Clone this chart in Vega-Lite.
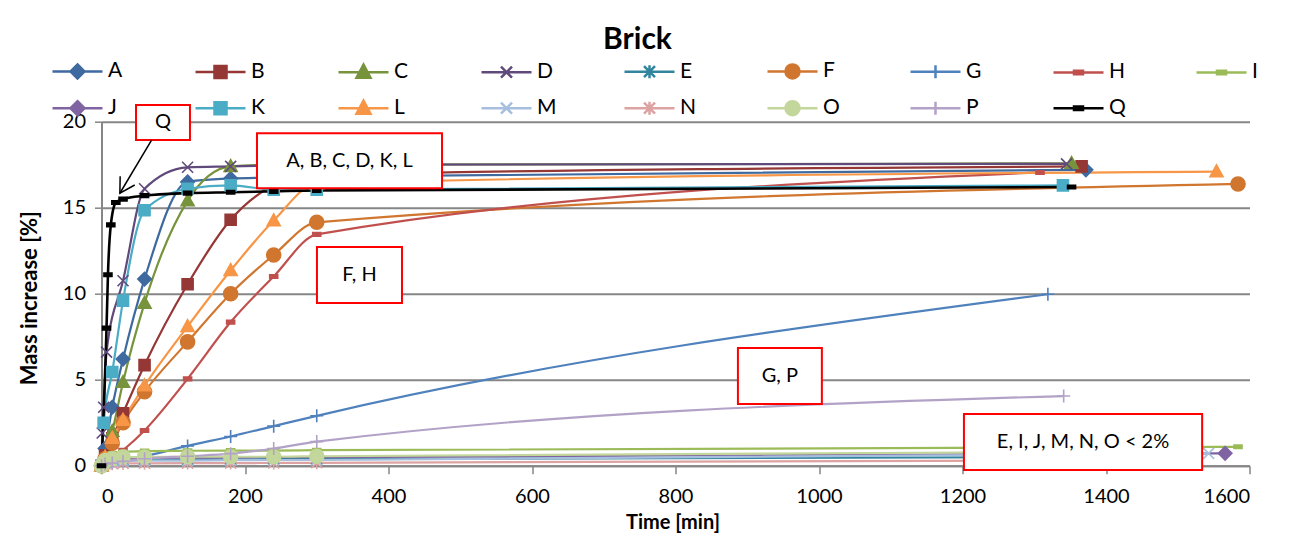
{
  "$schema": "https://vega.github.io/schema/vega-lite/v6.json",
  "width": 1148,
  "height": 344,
  "autosize": {"type": "none"},
  "padding": {"left": 101.5, "top": 121.7, "right": 45.5, "bottom": 68.3},
  "background": "white",
  "title": {"text": "Brick", "font": "Lato", "fontSize": 30, "fontWeight": "bold", "color": "black", "anchor": "middle", "frame": "group", "dx": -38, "baseline": "alphabetic", "offset": -19},
  "config": {
    "view": {"stroke": null},
    "axis": {"labelFont": "Lato", "titleFont": "Lato", "labelColor": "black", "titleColor": "black", "domainColor": "#868686", "tickColor": "#868686", "gridColor": "#868686"},
    "legend": {"labelFont": "Lato", "labelColor": "black"}
  },
  "datasets": {
    "main": [
      {"s":"A","t":0,"v":0},{"s":"A","t":5,"v":1.0},{"s":"A","t":15,"v":3.4},{"s":"A","t":30,"v":6.2},{"s":"A","t":60,"v":10.85},{"s":"A","t":120,"v":16.5},{"s":"A","t":180,"v":16.7},{"s":"A","t":240,"v":16.75},{"s":"A","t":300,"v":16.8},{"s":"A","t":1372,"v":17.2},
      {"s":"B","t":0,"v":0},{"s":"B","t":5,"v":0.6},{"s":"B","t":15,"v":1.6},{"s":"B","t":30,"v":3.05},{"s":"B","t":60,"v":5.85},{"s":"B","t":120,"v":10.55},{"s":"B","t":180,"v":14.3},{"s":"B","t":240,"v":16.3},{"s":"B","t":300,"v":16.9},{"s":"B","t":1366,"v":17.4},
      {"s":"C","t":0,"v":0},{"s":"C","t":5,"v":0.5},{"s":"C","t":15,"v":2.0},{"s":"C","t":30,"v":4.85},{"s":"C","t":60,"v":9.45},{"s":"C","t":120,"v":15.4},{"s":"C","t":180,"v":17.4},{"s":"C","t":240,"v":17.5},{"s":"C","t":300,"v":17.5},{"s":"C","t":1352,"v":17.58},
      {"s":"D","t":0,"v":0},{"s":"D","t":1,"v":1.9},{"s":"D","t":3,"v":3.4},{"s":"D","t":7,"v":6.6},{"s":"D","t":30,"v":10.75},{"s":"D","t":60,"v":16.1},{"s":"D","t":120,"v":17.35},{"s":"D","t":180,"v":17.4},{"s":"D","t":240,"v":17.45},{"s":"D","t":300,"v":17.5},{"s":"D","t":1345,"v":17.55},
      {"s":"E","t":0,"v":0},{"s":"E","t":5,"v":0.2},{"s":"E","t":15,"v":0.3},{"s":"E","t":30,"v":0.33},{"s":"E","t":60,"v":0.35},{"s":"E","t":120,"v":0.36},{"s":"E","t":180,"v":0.37},{"s":"E","t":240,"v":0.38},{"s":"E","t":300,"v":0.38},{"s":"E","t":1350,"v":0.5},
      {"s":"F","t":0,"v":0},{"s":"F","t":5,"v":0.4},{"s":"F","t":15,"v":1.3},{"s":"F","t":30,"v":2.5},{"s":"F","t":60,"v":4.3},{"s":"F","t":120,"v":7.2},{"s":"F","t":180,"v":10.0},{"s":"F","t":240,"v":12.25},{"s":"F","t":300,"v":14.15},{"s":"F","t":1584,"v":16.38},
      {"s":"G","t":0,"v":0},{"s":"G","t":5,"v":0.1},{"s":"G","t":15,"v":0.2},{"s":"G","t":30,"v":0.3},{"s":"G","t":60,"v":0.55},{"s":"G","t":120,"v":1.15},{"s":"G","t":180,"v":1.7},{"s":"G","t":240,"v":2.3},{"s":"G","t":300,"v":2.9},{"s":"G","t":1319,"v":9.97},
      {"s":"H","t":0,"v":0},{"s":"H","t":5,"v":0.1},{"s":"H","t":15,"v":0.4},{"s":"H","t":30,"v":0.9},{"s":"H","t":60,"v":2.05},{"s":"H","t":120,"v":5.05},{"s":"H","t":180,"v":8.35},{"s":"H","t":240,"v":11.0},{"s":"H","t":300,"v":13.45},{"s":"H","t":1308,"v":17.05},
      {"s":"I","t":0,"v":0},{"s":"I","t":5,"v":0.5},{"s":"I","t":15,"v":0.7},{"s":"I","t":30,"v":0.8},{"s":"I","t":60,"v":0.85},{"s":"I","t":120,"v":0.87},{"s":"I","t":180,"v":0.88},{"s":"I","t":240,"v":0.88},{"s":"I","t":300,"v":0.9},{"s":"I","t":1584,"v":1.1},
      {"s":"J","t":0,"v":0},{"s":"J","t":5,"v":0.3},{"s":"J","t":15,"v":0.4},{"s":"J","t":30,"v":0.45},{"s":"J","t":60,"v":0.45},{"s":"J","t":120,"v":0.47},{"s":"J","t":180,"v":0.48},{"s":"J","t":240,"v":0.5},{"s":"J","t":300,"v":0.5},{"s":"J","t":1566,"v":0.72},
      {"s":"K","t":0,"v":0},{"s":"K","t":3,"v":2.5},{"s":"K","t":15,"v":5.45},{"s":"K","t":30,"v":9.6},{"s":"K","t":60,"v":14.85},{"s":"K","t":120,"v":16.1},{"s":"K","t":180,"v":16.3},{"s":"K","t":240,"v":16.05},{"s":"K","t":300,"v":16.05},{"s":"K","t":1340,"v":16.3},
      {"s":"L","t":0,"v":0},{"s":"L","t":5,"v":0.5},{"s":"L","t":15,"v":1.6},{"s":"L","t":30,"v":2.65},{"s":"L","t":60,"v":4.65},{"s":"L","t":120,"v":8.1},{"s":"L","t":180,"v":11.35},{"s":"L","t":240,"v":14.25},{"s":"L","t":300,"v":16.4},{"s":"L","t":1554,"v":17.1},
      {"s":"M","t":0,"v":0},{"s":"M","t":5,"v":0.2},{"s":"M","t":15,"v":0.25},{"s":"M","t":30,"v":0.28},{"s":"M","t":60,"v":0.3},{"s":"M","t":120,"v":0.3},{"s":"M","t":180,"v":0.32},{"s":"M","t":240,"v":0.33},{"s":"M","t":300,"v":0.33},{"s":"M","t":1543,"v":0.72},
      {"s":"N","t":0,"v":0},{"s":"N","t":5,"v":0.1},{"s":"N","t":15,"v":0.12},{"s":"N","t":30,"v":0.13},{"s":"N","t":60,"v":0.14},{"s":"N","t":120,"v":0.15},{"s":"N","t":180,"v":0.15},{"s":"N","t":240,"v":0.16},{"s":"N","t":300,"v":0.17},{"s":"N","t":1350,"v":0.3},
      {"s":"O","t":0,"v":0},{"s":"O","t":5,"v":0.3},{"s":"O","t":15,"v":0.4},{"s":"O","t":30,"v":0.5},{"s":"O","t":60,"v":0.5},{"s":"O","t":120,"v":0.52},{"s":"O","t":180,"v":0.52},{"s":"O","t":240,"v":0.52},{"s":"O","t":300,"v":0.55},{"s":"O","t":1350,"v":0.8},
      {"s":"P","t":0,"v":0},{"s":"P","t":5,"v":0.1},{"s":"P","t":15,"v":0.15},{"s":"P","t":30,"v":0.25},{"s":"P","t":60,"v":0.4},{"s":"P","t":120,"v":0.55},{"s":"P","t":180,"v":0.7},{"s":"P","t":240,"v":1.0},{"s":"P","t":300,"v":1.4},{"s":"P","t":1341,"v":4.05},
      {"s":"Q","t":0,"v":0},{"s":"Q","t":7,"v":8.0},{"s":"Q","t":9,"v":11.1},{"s":"Q","t":13,"v":14.0},{"s":"Q","t":20,"v":15.3},{"s":"Q","t":30,"v":15.5},{"s":"Q","t":60,"v":15.7},{"s":"Q","t":120,"v":15.85},{"s":"Q","t":180,"v":15.9},{"s":"Q","t":240,"v":15.95},{"s":"Q","t":300,"v":16.0},{"s":"Q","t":1352,"v":16.2}
    ],
    "boxes": [
      {"label":"Q","x1":48.1,"x2":123.3,"y1":20.97,"y2":18.94},
      {"label":"A, B, C, D, K, L","x1":216.7,"x2":474.6,"y1":19.33,"y2":16.13},
      {"label":"F, H","x1":300.3,"x2":418.8,"y1":12.71,"y2":9.46},
      {"label":"G, P","x1":887,"x2":1004,"y1":6.84,"y2":3.59},
      {"label":"E, I, J, M, N, O < 2%","x1":1202,"x2":1534,"y1":3.0,"y2":-0.25}
    ],
    "arrow": [
      {"x1":70,"y1":18.94,"x2":25.6,"y2":15.84}
    ]
  },
  "layer": [
    {
      "data": {"name": "main"},
      "mark": {"type": "line", "interpolate": "monotone"},
      "encoding": {
        "x": {"field": "t", "type": "quantitative", "title": "Time [min]",
          "scale": {"domain": [0, 1600], "nice": false},
          "axis": {"values": [0,200,400,600,800,1000,1200,1400,1600], "format": "d", "grid": false, "labelFontSize": 20, "tickSize": 8, "tickWidth": 1.5, "domainWidth": 2, "labelPadding": 13, "titleFontSize": 20, "titleFontWeight": "bold", "titleX": 571, "titleY": 57, "titleBaseline": "middle", "titleAlign": "center"}},
        "y": {"field": "v", "type": "quantitative", "title": "Mass increase [%]",
          "scale": {"domain": [0, 20], "nice": false},
          "axis": {"values": [0,5,10,15,20], "grid": true, "gridWidth": 2, "labelFontSize": 20, "tickSize": 7, "tickWidth": 1.5, "domainWidth": 2, "labelPadding": 9, "titleFontSize": 22, "titleFontWeight": "bold", "titleX": -72, "titleY": 176, "titleBaseline": "middle", "titleAlign": "center", "titleAngle": -90}},
        "stroke": {"field": "s", "type": "nominal", "legend": null,
          "scale": {"domain": ["A","B","C","D","E","F","G","H","I","J","K","L","M","N","O","P","Q"],
            "range": ["#3F6AA0","#953735","#77933C","#604A7B","#31859C","#D0762F","#4F81BD","#C0504D","#9BBB59","#8064A2","#4BACC6","#F79646","#A7BFDE","#DCA3A2","#C3D69B","#B3A2C7","#000000"]}},
        "strokeWidth": {"condition": {"test": "datum.s === 'Q'", "value": 2.6}, "value": 2.2}
      }
    },
    {
      "data": {"name": "main"},
      "mark": {"type": "point", "filled": true, "size": 100, "strokeWidth": 1.6, "opacity": 1},
      "encoding": {
        "x": {"field": "t", "type": "quantitative", "title": "Time [min]"},
        "y": {"field": "v", "type": "quantitative", "title": "Mass increase [%]"},
        "fill": {"field": "s", "type": "nominal", "legend": null,
          "scale": {"domain": ["A","B","C","D","E","F","G","H","I","J","K","L","M","N","O","P","Q"],
            "range": ["#3F6AA0","#953735","#77933C","#604A7B","#31859C","#D0762F","#4F81BD","#C0504D","#9BBB59","#8064A2","#4BACC6","#F79646","#A7BFDE","#DCA3A2","#C3D69B","#B3A2C7","#000000"]}},
        "stroke": {"field": "s", "type": "nominal", "legend": null,
          "scale": {"domain": ["A","B","C","D","E","F","G","H","I","J","K","L","M","N","O","P","Q"],
            "range": ["#3F6AA0","#953735","#77933C","#604A7B","#31859C","#D0762F","#4F81BD","#C0504D","#9BBB59","#8064A2","#4BACC6","#F79646","#A7BFDE","#DCA3A2","#C3D69B","#B3A2C7","#000000"]}},
        "shape": {"field": "s", "type": "nominal", "legend": null,
          "scale": {"domain": ["A","B","C","D","E","F","G","H","I","J","K","L","M","N","O","P","Q"],
            "range": [
              "M0,-1.35L1.35,0L0,1.35L-1.35,0Z",
              "M-1.1,-1.1H1.1V1.1H-1.1Z",
              "M0,-1.35L1.3,1H-1.3Z",
              "M-1.1,-1.1L1.1,1.1M-1.1,1.1L1.1,-1.1",
              "M-1.1,-1.1L1.1,1.1M-1.1,1.1L1.1,-1.1M0,-1.3V1.3",
              "M1.4,0A1.4,1.4,0,1,1,-1.4,0A1.4,1.4,0,1,1,1.4,0Z",
              "M-1.3,0H1.3M0,-1.3V1.3",
              "M-0.8,-0.35H0.8V0.35H-0.8Z",
              "M-0.8,-0.35H0.8V0.35H-0.8Z",
              "M0,-1.35L1.35,0L0,1.35L-1.35,0Z",
              "M-1.1,-1.1H1.1V1.1H-1.1Z",
              "M0,-1.35L1.3,1H-1.3Z",
              "M-1.1,-1.1L1.1,1.1M-1.1,1.1L1.1,-1.1",
              "M-1.1,-1.1L1.1,1.1M-1.1,1.1L1.1,-1.1M0,-1.3V1.3",
              "M1.4,0A1.4,1.4,0,1,1,-1.4,0A1.4,1.4,0,1,1,1.4,0Z",
              "M-1.3,0H1.3M0,-1.3V1.3",
              "M-0.8,-0.35H0.8V0.35H-0.8Z"
            ]}}
      }
    },
    {
      "data": {"name": "main"},
      "mark": {"type": "point", "filled": true, "opacity": 0},
      "encoding": {
        "x": {"field": "t", "type": "quantitative", "title": "Time [min]"},
        "y": {"field": "v", "type": "quantitative", "title": "Mass increase [%]"},
        "fill": {"field": "s", "type": "nominal",
          "legend": {"title": null, "orient": "none", "legendX": -35.5, "legendY": -62, "direction": "horizontal", "columns": 9, "padding": 0, "symbolSize": 400, "symbolStrokeWidth": 2.5, "symbolOpacity": 1, "labelFontSize": 21, "labelOffset": 19, "columnPadding": 62, "rowPadding": 12, "gridAlign": "all", "symbolLimit": 0},
          "scale": {"domain": ["A","B","C","D","E","F","G","H","I","J","K","L","M","N","O","P","Q"],
            "range": ["#3F6AA0","#953735","#77933C","#604A7B","#31859C","#D0762F","#4F81BD","#C0504D","#9BBB59","#8064A2","#4BACC6","#F79646","#A7BFDE","#DCA3A2","#C3D69B","#B3A2C7","#000000"]}},
        "stroke": {"field": "s", "type": "nominal",
          "legend": {"title": null, "orient": "none", "legendX": -35.5, "legendY": -62, "direction": "horizontal", "columns": 9, "padding": 0, "symbolSize": 400, "symbolStrokeWidth": 2.5, "symbolOpacity": 1, "labelFontSize": 21, "labelOffset": 19, "columnPadding": 62, "rowPadding": 12, "gridAlign": "all", "symbolLimit": 0},
          "scale": {"domain": ["A","B","C","D","E","F","G","H","I","J","K","L","M","N","O","P","Q"],
            "range": ["#3F6AA0","#953735","#77933C","#604A7B","#31859C","#D0762F","#4F81BD","#C0504D","#9BBB59","#8064A2","#4BACC6","#F79646","#A7BFDE","#DCA3A2","#C3D69B","#B3A2C7","#000000"]}},
        "shape": {"field": "s", "type": "nominal",
          "legend": {"title": null, "orient": "none", "legendX": -35.5, "legendY": -62, "direction": "horizontal", "columns": 9, "padding": 0, "symbolSize": 400, "symbolStrokeWidth": 2.5, "symbolOpacity": 1, "labelFontSize": 21, "labelOffset": 19, "columnPadding": 62, "rowPadding": 12, "gridAlign": "all", "symbolLimit": 0},
          "scale": {"domain": ["A","B","C","D","E","F","G","H","I","J","K","L","M","N","O","P","Q"],
            "range": [
              "M-2.5,0H2.5M0,-0.7L0.7,0L0,0.7L-0.7,0Z",
              "M-2.5,0H2.5M-0.6,-0.6H0.6V0.6H-0.6Z",
              "M-2.5,0H2.5M0,-0.75L0.7,0.55H-0.7Z",
              "M-2.5,0H2.5M-0.55,-0.55L0.55,0.55M-0.55,0.55L0.55,-0.55",
              "M-2.5,0H2.5M-0.55,-0.55L0.55,0.55M-0.55,0.55L0.55,-0.55M0,-0.65V0.65",
              "M-2.5,0H2.5M0.7,0A0.7,0.7,0,1,1,-0.7,0A0.7,0.7,0,1,1,0.7,0Z",
              "M-2.5,0H2.5M0,-0.65V0.65",
              "M-2.5,0H2.5M-0.45,-0.18H0.45V0.18H-0.45Z",
              "M-2.5,0H2.5M-0.45,-0.18H0.45V0.18H-0.45Z",
              "M-2.5,0H2.5M0,-0.7L0.7,0L0,0.7L-0.7,0Z",
              "M-2.5,0H2.5M-0.6,-0.6H0.6V0.6H-0.6Z",
              "M-2.5,0H2.5M0,-0.75L0.7,0.55H-0.7Z",
              "M-2.5,0H2.5M-0.55,-0.55L0.55,0.55M-0.55,0.55L0.55,-0.55",
              "M-2.5,0H2.5M-0.55,-0.55L0.55,0.55M-0.55,0.55L0.55,-0.55M0,-0.65V0.65",
              "M-2.5,0H2.5M0.7,0A0.7,0.7,0,1,1,-0.7,0A0.7,0.7,0,1,1,0.7,0Z",
              "M-2.5,0H2.5M0,-0.65V0.65",
              "M-2.5,0H2.5M-0.45,-0.18H0.45V0.18H-0.45Z"
            ]}}
      }
    },
    {
      "data": {"name": "boxes"},
      "mark": {"type": "rect", "fill": "white", "stroke": "#FF0000", "strokeWidth": 2},
      "encoding": {
        "x": {"field": "x1", "type": "quantitative", "title": "Time [min]"},
        "x2": {"field": "x2"},
        "y": {"field": "y1", "type": "quantitative", "title": "Mass increase [%]"},
        "y2": {"field": "y2"}
      }
    },
    {
      "data": {"name": "boxes"},
      "transform": [
        {"calculate": "(datum.x1 + datum.x2) / 2", "as": "xm"},
        {"calculate": "(datum.y1 + datum.y2) / 2", "as": "ym"}
      ],
      "mark": {"type": "text", "font": "Lato", "fontSize": 20, "color": "black", "align": "center", "baseline": "middle"},
      "encoding": {
        "x": {"field": "xm", "type": "quantitative", "title": "Time [min]"},
        "y": {"field": "ym", "type": "quantitative", "title": "Mass increase [%]"},
        "text": {"field": "label"}
      }
    },
    {
      "data": {"name": "arrow"},
      "mark": {"type": "rule", "color": "black", "strokeWidth": 1.5},
      "encoding": {
        "x": {"field": "x1", "type": "quantitative", "title": "Time [min]"},
        "y": {"field": "y1", "type": "quantitative", "title": "Mass increase [%]"},
        "x2": {"field": "x2"},
        "y2": {"field": "y2"}
      }
    },
    {
      "data": {"name": "arrow"},
      "mark": {"type": "point", "shape": "M-0.5,-0.866L0,0L0.5,-0.866", "angle": 31, "size": 1156, "filled": false, "stroke": "black", "strokeWidth": 1.5, "opacity": 1},
      "encoding": {
        "x": {"field": "x2", "type": "quantitative", "title": "Time [min]"},
        "y": {"field": "y2", "type": "quantitative", "title": "Mass increase [%]"}
      }
    }
  ],
  "resolve": {"scale": {"shape": "independent", "fill": "independent", "stroke": "independent"}}
}
